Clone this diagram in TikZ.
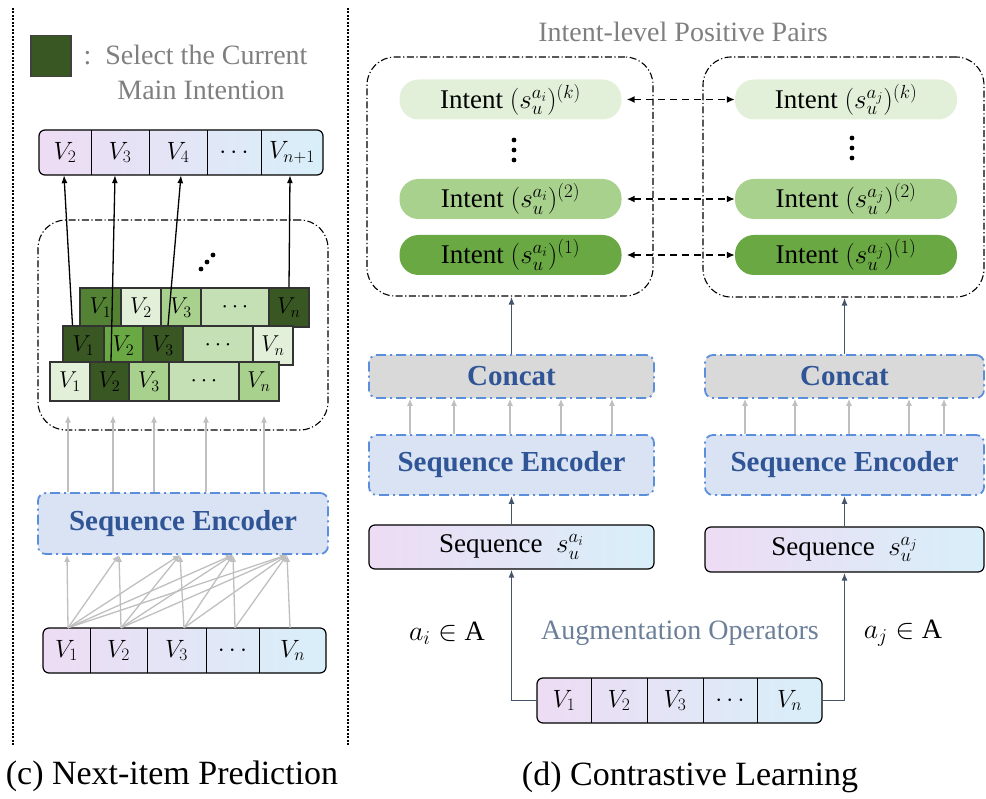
\RequirePackage{fix-cm}
\documentclass[tikz,border=0pt]{standalone}
\usepackage{fontspec}
\setmainfont{Liberation Serif}
\usetikzlibrary{arrows.meta}
\definecolor{dgreen}{HTML}{385723}
\definecolor{mgreen}{HTML}{548235}
\definecolor{green}{HTML}{6AA843}
\definecolor{lgreen}{HTML}{A9D18E}
\definecolor{llgreen}{HTML}{C5E0B4}
\definecolor{pale}{HTML}{E2F0D9}
\definecolor{barL}{HTML}{EDDCF4}
\definecolor{barR}{HTML}{D8EFF9}
\definecolor{encF}{HTML}{DAE3F3}
\definecolor{encB}{HTML}{5B8FDB}
\definecolor{encT}{HTML}{2F5597}
\definecolor{ccF}{HTML}{D9D9D9}
\definecolor{garrow}{HTML}{BFBFBF}
\definecolor{darrow}{HTML}{44546A}
\definecolor{txtgray}{HTML}{7F7F7F}
\definecolor{augtxt}{HTML}{6C7F98}
\tikzset{
    cell/.style={inner sep=0,minimum height=45,font=\fontsize{25}{28}\selectfont},
    blk/.style={draw=black!80,line width=1.2pt,inner sep=0,minimum height=39,font=\fontsize{23}{26}\selectfont},
    bar/.style={draw,line width=1.2pt,rounded corners=6pt,left color=barL,right color=barR},
    enc/.style={draw=encB,fill=encF,line width=1.8pt,dash pattern=on 10pt off 4pt on 2pt off 4pt,
        rounded corners=8pt,text=encT,font=\bfseries\fontsize{29}{34}\selectfont},
    grp/.style={draw,line width=1.1pt,dash pattern=on 7pt off 2.5pt on 1.2pt off 2.5pt,rounded corners=28pt},
    pill/.style={rounded corners=19pt,minimum width=222,minimum height=40,inner sep=0,font=\fontsize{27}{30}\selectfont},
    gar/.style={draw=garrow,line width=1.3pt,-{Latex[length=7pt,width=6pt]}},
    dar/.style={draw=darrow,line width=1.5pt,-{Latex[length=8pt,width=6pt]}},
    kar/.style={draw=black,line width=1.3pt,-{Latex[length=8pt,width=6pt]}},
    par/.style={draw=black,line width=1.5pt,dash pattern=on 7pt off 5pt,{Latex[length=8pt,width=7pt]}-{Latex[length=8pt,width=7pt]}},
    sep/.style={line width=2.2pt,dash pattern=on 2pt off 1.5pt}
}
\begin{document}
\begin{tikzpicture}[x=1pt,y=-1pt,font=\fontsize{28}{34}\selectfont]
    \useasboundingbox (0,0) rectangle (986,799);
    \draw[sep] (13,8) -- (13,745);
    \draw[sep] (348,8) -- (348,745);

    \node[fill=dgreen,draw=black!75,line width=1.2pt,minimum width=40,minimum height=41,inner sep=0] (key) at (51,56) {};
    \node[anchor=west,text=txtgray] (keytxt) at (80,55) {:\ \ Select the Current};
    \node[text=txtgray] (keytxt2) at (201,90) {Main Intention};

    \node[bar,minimum width=284,minimum height=45] (outbar) at (181,152.5) {};
    \node[cell,minimum width=52] (o1) at (65,152.5) {$V_2$};
    \node[cell,minimum width=58] (o2) at (120,152.5) {$V_3$};
    \node[cell,minimum width=58] (o3) at (178,152.5) {$V_4$};
    \node[cell,minimum width=54] (o4) at (234,152.5) {$\cdots$};
    \node[cell,minimum width=62] (o5) at (292,152.5) {$V_{n+1}$};
    \foreach \c in {o1,o2,o3,o4} \draw[line width=1.2pt] (\c.north east) -- (\c.south east);

    \node[grp,minimum width=290,minimum height=210] (stack) at (183,325) {};
    \fill (201,269) circle (2.4pt) (207,262) circle (2.4pt) (213,255) circle (2.4pt);
    \node[blk,fill=mgreen,minimum width=41] (t1) at (100.5,307.5) {$V_1$};
    \node[blk,fill=pale,minimum width=40] (t2) at (141,307.5) {$V_2$};
    \node[blk,fill=lgreen,minimum width=40] (t3) at (181,307.5) {$V_3$};
    \node[blk,fill=llgreen,minimum width=68] (t4) at (235,307.5) {$\cdots$};
    \node[blk,fill=dgreen,minimum width=40] (t5) at (289,307.5) {$V_n$};
    \node[blk,fill=dgreen,minimum width=41] (m1) at (83.5,345.5) {$V_1$};
    \node[blk,fill=green,minimum width=39] (m2) at (123.5,345.5) {$V_2$};
    \node[blk,fill=dgreen,minimum width=40] (m3) at (163,345.5) {$V_3$};
    \node[blk,fill=llgreen,minimum width=70] (m4) at (218,345.5) {$\cdots$};
    \node[blk,fill=pale,minimum width=40] (m5) at (273,345.5) {$V_n$};
    \node[blk,fill=pale,minimum width=40] (b1) at (70,381.5) {$V_1$};
    \node[blk,fill=dgreen,minimum width=39] (b2) at (109.5,381.5) {$V_2$};
    \node[blk,fill=lgreen,minimum width=40] (b3) at (149,381.5) {$V_3$};
    \node[blk,fill=llgreen,minimum width=70] (b4) at (204,381.5) {$\cdots$};
    \node[blk,fill=lgreen,minimum width=40] (b5) at (259,381.5) {$V_n$};
    \draw[kar] ([xshift=-11pt]m1.north) -- ([xshift=-1pt]o1.south);
    \draw[kar] ([xshift=1.5pt]b2.north) -- ([xshift=-5pt]o2.south);
    \draw[kar] ([xshift=5pt]m3.north) -- ([xshift=3pt]o3.south);
    \draw[kar] (t5.north) -- ([xshift=-2pt]o5.south);

    \node[enc,minimum width=290,minimum height=61] (enc) at (183,523.5) {Sequence Encoder};
    \foreach \d in {-115,-70,-29,23,81}
        \draw[gar] ([xshift=\d pt]enc.north) -- ([xshift=\d pt,yshift=15pt]stack.south);

    \node[bar,minimum width=283,minimum height=45] (inbar) at (184.5,650.5) {};
    \node[cell,minimum width=47] (i1) at (66.5,650.5) {$V_1$};
    \node[cell,minimum width=57] (i2) at (118.5,650.5) {$V_2$};
    \node[cell,minimum width=59] (i3) at (176.5,650.5) {$V_3$};
    \node[cell,minimum width=53] (i4) at (232.5,650.5) {$\cdots$};
    \node[cell,minimum width=67] (i5) at (292.5,650.5) {$V_n$};
    \foreach \c in {i1,i2,i3,i4} \draw[line width=1.2pt] (\c.north east) -- (\c.south east);
    \foreach \i/\sx in {1/1.5,2/2.5,3/7.5,4/2.5,5/-2.5}
        \foreach \t [count=\j] in {-116,-64,-3,50,104}
            {\ifnum\j<\i\else\draw[gar] ([xshift=\sx pt]i\i.north) -- ([xshift=\t pt]enc.south);\fi}

    \node[font=\fontsize{34}{40}\selectfont] (capc) at (172,776) {(c) Next-item Prediction};

    \node[text=txtgray] (ttl) at (683,32) {Intent-level Positive Pairs};
    \node[grp,minimum width=286,minimum height=239] (gi) at (510,176.5) {};
    \node[grp,minimum width=281,minimum height=240] (gj) at (843.5,177) {};
    \node[pill,fill=pale] (pki) at (510.5,99.5) {Intent $(s_u^{a_i})^{(k)}$};
    \node[pill,fill=lgreen] (p2i) at (510.5,199) {Intent $(s_u^{a_i})^{(2)}$};
    \node[pill,fill=green] (p1i) at (510.5,255) {Intent $(s_u^{a_i})^{(1)}$};
    \node[pill,fill=pale] (pkj) at (846,99.5) {Intent $(s_u^{a_j})^{(k)}$};
    \node[pill,fill=lgreen] (p2j) at (846,199) {Intent $(s_u^{a_j})^{(2)}$};
    \node[pill,fill=green] (p1j) at (846,255) {Intent $(s_u^{a_j})^{(1)}$};
    \fill (514,140) circle (2.4pt) (514,150) circle (2.4pt) (514,160) circle (2.4pt);
    \fill (852,138) circle (2.4pt) (852,148) circle (2.4pt) (852,158) circle (2.4pt);
    \draw[par] ([xshift=5pt]pki.east) -- (pkj.west);
    \draw[par] ([xshift=5pt]p2i.east) -- (p2j.west);
    \draw[par] ([xshift=5pt]p1i.east) -- (p1j.west);

    \node[enc,fill=ccF,minimum width=285,minimum height=43] (cci) at (511.5,376.5) {Concat};
    \node[enc,fill=ccF,minimum width=279,minimum height=43] (ccj) at (844.5,376.5) {Concat};
    \node[enc,minimum width=285,minimum height=60] (enci) at (511.5,465) {Sequence Encoder};
    \node[enc,minimum width=279,minimum height=60] (encj) at (844.5,465) {Sequence Encoder};
    \node[bar,minimum width=285,minimum height=44,font=\fontsize{27}{30}\selectfont] (sqi) at (511.5,547) {Sequence\ \ $s_u^{a_i}$};
    \node[bar,minimum width=279,minimum height=45,font=\fontsize{27}{30}\selectfont] (sqj) at (844.5,549.5) {Sequence\ \ $s_u^{a_j}$};
    \draw[dar] (cci.north) -- (cci.north |- gi.south);
    \draw[dar] (ccj.north) -- (ccj.north |- gj.south);
    \foreach \d in {-101.5,-57.5,-1.5,49.5,100.5}
        \draw[gar] ([xshift=\d pt]enci.north) -- ([xshift=\d pt]cci.south);
    \foreach \d in {-99.5,-49.5,4.5,64.5,99.5}
        \draw[gar] ([xshift=\d pt]encj.north) -- ([xshift=\d pt]ccj.south);
    \draw[dar] (sqi.north) -- (enci.south);
    \draw[dar] (sqj.north) -- (encj.south);

    \node[bar,minimum width=285,minimum height=45] (augbar) at (679.5,700.5) {};
    \node[cell,minimum width=54] (a1) at (564,700.5) {$V_1$};
    \node[cell,minimum width=56] (a2) at (619,700.5) {$V_2$};
    \node[cell,minimum width=56] (a3) at (675,700.5) {$V_3$};
    \node[cell,minimum width=54] (a4) at (730,700.5) {$\cdots$};
    \node[cell,minimum width=65] (a5) at (789.5,700.5) {$V_n$};
    \foreach \c in {a1,a2,a3,a4} \draw[line width=1.2pt] (\c.north east) -- (\c.south east);
    \draw[dar] (augbar.west) -| (sqi.south);
    \draw[dar] (augbar.east) -| (sqj.south);
    \node (opi) at (447,633) {$a_i \in \mathrm{A}$};
    \node[text=augtxt] (aug) at (680,633) {Augmentation Operators};
    \node (opj) at (903,633) {$a_j \in \mathrm{A}$};

    \node[font=\fontsize{34}{40}\selectfont] (capd) at (690,777) {(d) Contrastive Learning};
\end{tikzpicture}
\end{document}
